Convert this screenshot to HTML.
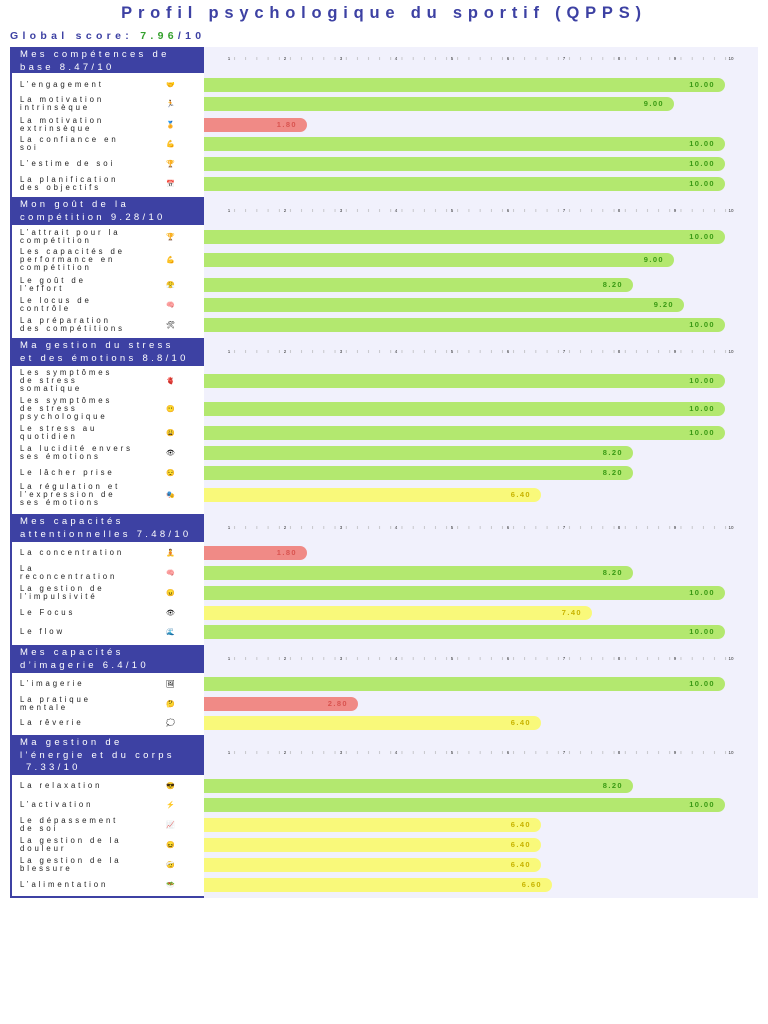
<!DOCTYPE html><html><head><meta charset="utf-8"><style>
body{margin:0;width:768px;height:1024px;background:#fff;position:relative;font-family:"Liberation Sans",sans-serif;overflow:hidden}
.a{position:absolute}
.t{left:0;width:768px;top:4px;text-align:center;font-weight:bold;font-size:16.5px;letter-spacing:5.8px;color:#3d41a3;white-space:nowrap}
.g{left:10px;top:30px;font-weight:bold;font-size:10.5px;letter-spacing:4.3px;color:#3d41a3;white-space:nowrap}
.g b{color:#33a02c}
.bg{left:204px;top:47px;width:554px;height:851px;background:#f1f1fc}
.lp{left:10px;top:47px;width:192px;height:849px;border-left:2px solid #3d41a3;border-bottom:2px solid #3d41a3;background:#fff}
.h{left:10px;width:184px;background:#3d41a3;color:#fff;font-size:9.5px;letter-spacing:3.3px;line-height:13px;padding:1px 0 0 10px;box-sizing:content-box;white-space:nowrap;overflow:hidden}
.l{left:20px;width:145px;font-size:7.8px;letter-spacing:2.9px;line-height:8px;color:#222;transform:translateY(-50%);white-space:nowrap}
.i{left:166px;font-size:7px;transform:translateY(-50%)}
.b{left:204px;height:14px;border-radius:0 8px 8px 0;font-size:7.5px;letter-spacing:1.4px;text-align:right;line-height:14px;box-sizing:border-box;padding-right:10px;font-weight:bold}
.G{background:#b3e86f;color:#3a9a14}.R{background:#f08a86;color:#d9534f}.Y{background:#f9f97a;color:#c8b400}
.k{left:204px;width:554px;height:10px}
</style></head><body>
<div class="a t">Profil psychologique du sportif (QPPS)</div>
<div class="a g">Global score: <b>7.96</b>/10</div>
<div class="a bg"></div>
<div class="a lp"></div>

<svg class="a k" style="top:53px" viewBox="0 0 554 10"><defs><pattern id="p" x="25" width="11.16" height="10" patternUnits="userSpaceOnUse"><line x1="5.58" y1="4" x2="5.58" y2="7" stroke="#aaa" stroke-width="0.6"/></pattern></defs><rect x="25" y="0" width="502" height="10" fill="url(#p)"/><g font-size="4.5" font-family="Liberation Sans" fill="#333" text-anchor="middle"><text x="25" y="7">1</text><text x="81" y="7">2</text><text x="137" y="7">3</text><text x="192" y="7">4</text><text x="248" y="7">5</text><text x="304" y="7">6</text><text x="360" y="7">7</text><text x="415" y="7">8</text><text x="471" y="7">9</text><text x="527" y="7">10</text></g></svg>
<svg class="a k" style="top:205px" viewBox="0 0 554 10"><rect x="25" y="0" width="502" height="10" fill="url(#p)"/><g font-size="4.5" font-family="Liberation Sans" fill="#333" text-anchor="middle"><text x="25" y="7">1</text><text x="81" y="7">2</text><text x="137" y="7">3</text><text x="192" y="7">4</text><text x="248" y="7">5</text><text x="304" y="7">6</text><text x="360" y="7">7</text><text x="415" y="7">8</text><text x="471" y="7">9</text><text x="527" y="7">10</text></g></svg>
<svg class="a k" style="top:346px" viewBox="0 0 554 10"><rect x="25" y="0" width="502" height="10" fill="url(#p)"/><g font-size="4.5" font-family="Liberation Sans" fill="#333" text-anchor="middle"><text x="25" y="7">1</text><text x="81" y="7">2</text><text x="137" y="7">3</text><text x="192" y="7">4</text><text x="248" y="7">5</text><text x="304" y="7">6</text><text x="360" y="7">7</text><text x="415" y="7">8</text><text x="471" y="7">9</text><text x="527" y="7">10</text></g></svg>
<svg class="a k" style="top:522px" viewBox="0 0 554 10"><rect x="25" y="0" width="502" height="10" fill="url(#p)"/><g font-size="4.5" font-family="Liberation Sans" fill="#333" text-anchor="middle"><text x="25" y="7">1</text><text x="81" y="7">2</text><text x="137" y="7">3</text><text x="192" y="7">4</text><text x="248" y="7">5</text><text x="304" y="7">6</text><text x="360" y="7">7</text><text x="415" y="7">8</text><text x="471" y="7">9</text><text x="527" y="7">10</text></g></svg>
<svg class="a k" style="top:653px" viewBox="0 0 554 10"><rect x="25" y="0" width="502" height="10" fill="url(#p)"/><g font-size="4.5" font-family="Liberation Sans" fill="#333" text-anchor="middle"><text x="25" y="7">1</text><text x="81" y="7">2</text><text x="137" y="7">3</text><text x="192" y="7">4</text><text x="248" y="7">5</text><text x="304" y="7">6</text><text x="360" y="7">7</text><text x="415" y="7">8</text><text x="471" y="7">9</text><text x="527" y="7">10</text></g></svg>
<svg class="a k" style="top:747px" viewBox="0 0 554 10"><rect x="25" y="0" width="502" height="10" fill="url(#p)"/><g font-size="4.5" font-family="Liberation Sans" fill="#333" text-anchor="middle"><text x="25" y="7">1</text><text x="81" y="7">2</text><text x="137" y="7">3</text><text x="192" y="7">4</text><text x="248" y="7">5</text><text x="304" y="7">6</text><text x="360" y="7">7</text><text x="415" y="7">8</text><text x="471" y="7">9</text><text x="527" y="7">10</text></g></svg>

<!-- S1 -->
<div class="a h" style="top:47px;height:25px">Mes compétences de<br>base 8.47/10</div>
<div class="a l" style="top:85px">L’engagement</div><div class="a i" style="top:85px">🤝</div><div class="a b G" style="top:78px;width:521px">10.00</div>
<div class="a l" style="top:104px">La motivation<br>intrinsèque</div><div class="a i" style="top:104px">🏃</div><div class="a b G" style="top:97px;width:470px">9.00</div>
<div class="a l" style="top:125px">La motivation<br>extrinsèque</div><div class="a i" style="top:125px">🏅</div><div class="a b R" style="top:118px;width:103px">1.80</div>
<div class="a l" style="top:144px">La confiance en<br>soi</div><div class="a i" style="top:144px">💪</div><div class="a b G" style="top:137px;width:521px">10.00</div>
<div class="a l" style="top:164px">L’estime de soi</div><div class="a i" style="top:164px">🏆</div><div class="a b G" style="top:157px;width:521px">10.00</div>
<div class="a l" style="top:184px">La planification<br>des objectifs</div><div class="a i" style="top:184px">📅</div><div class="a b G" style="top:177px;width:521px">10.00</div>
<!-- S2 -->
<div class="a h" style="top:197px;height:27px">Mon goût de la<br>compétition 9.28/10</div>
<div class="a l" style="top:237px">L’attrait pour la<br>compétition</div><div class="a i" style="top:237px">🏆</div><div class="a b G" style="top:230px;width:521px">10.00</div>
<div class="a l" style="top:260px">Les capacités de<br>performance en<br>compétition</div><div class="a i" style="top:260px">💪</div><div class="a b G" style="top:253px;width:470px">9.00</div>
<div class="a l" style="top:285px">Le goût de<br>l’effort</div><div class="a i" style="top:285px">😤</div><div class="a b G" style="top:278px;width:429px">8.20</div>
<div class="a l" style="top:305px">Le locus de<br>contrôle</div><div class="a i" style="top:305px">🧠</div><div class="a b G" style="top:298px;width:480px">9.20</div>
<div class="a l" style="top:325px">La préparation<br>des compétitions</div><div class="a i" style="top:325px">🛠</div><div class="a b G" style="top:318px;width:521px">10.00</div>
<!-- S3 -->
<div class="a h" style="top:338px;height:27px">Ma gestion du stress<br>et des émotions 8.8/10</div>
<div class="a l" style="top:381px">Les symptômes<br>de stress<br>somatique</div><div class="a i" style="top:381px">🫀</div><div class="a b G" style="top:374px;width:521px">10.00</div>
<div class="a l" style="top:409px">Les symptômes<br>de stress<br>psychologique</div><div class="a i" style="top:409px">😶</div><div class="a b G" style="top:402px;width:521px">10.00</div>
<div class="a l" style="top:433px">Le stress au<br>quotidien</div><div class="a i" style="top:433px">😩</div><div class="a b G" style="top:426px;width:521px">10.00</div>
<div class="a l" style="top:453px">La lucidité envers<br>ses émotions</div><div class="a i" style="top:453px">👁</div><div class="a b G" style="top:446px;width:429px">8.20</div>
<div class="a l" style="top:473px">Le lâcher prise</div><div class="a i" style="top:473px">😌</div><div class="a b G" style="top:466px;width:429px">8.20</div>
<div class="a l" style="top:495px">La régulation et<br>l’expression de<br>ses émotions</div><div class="a i" style="top:495px">🎭</div><div class="a b Y" style="top:488px;width:337px">6.40</div>
<!-- S4 -->
<div class="a h" style="top:514px;height:27px">Mes capacités<br>attentionnelles 7.48/10</div>
<div class="a l" style="top:553px">La concentration</div><div class="a i" style="top:553px">🧘</div><div class="a b R" style="top:546px;width:103px">1.80</div>
<div class="a l" style="top:573px">La<br>reconcentration</div><div class="a i" style="top:573px">🧠</div><div class="a b G" style="top:566px;width:429px">8.20</div>
<div class="a l" style="top:593px">La gestion de<br>l’impulsivité</div><div class="a i" style="top:593px">😠</div><div class="a b G" style="top:586px;width:521px">10.00</div>
<div class="a l" style="top:613px">Le Focus</div><div class="a i" style="top:613px">👁</div><div class="a b Y" style="top:606px;width:388px">7.40</div>
<div class="a l" style="top:632px">Le flow</div><div class="a i" style="top:632px">🌊</div><div class="a b G" style="top:625px;width:521px">10.00</div>
<!-- S5 -->
<div class="a h" style="top:645px;height:27px">Mes capacités<br>d’imagerie 6.4/10</div>
<div class="a l" style="top:684px">L’imagerie</div><div class="a i" style="top:684px">🖼</div><div class="a b G" style="top:677px;width:521px">10.00</div>
<div class="a l" style="top:704px">La pratique<br>mentale</div><div class="a i" style="top:704px">🤔</div><div class="a b R" style="top:697px;width:154px">2.80</div>
<div class="a l" style="top:723px">La rêverie</div><div class="a i" style="top:723px">💭</div><div class="a b Y" style="top:716px;width:337px">6.40</div>
<!-- S6 -->
<div class="a h" style="top:735px;height:38px;line-height:12.5px;padding-top:2px">Ma gestion de<br>l’énergie et du corps<br>&nbsp;7.33/10</div>
<div class="a l" style="top:786px">La relaxation</div><div class="a i" style="top:786px">😎</div><div class="a b G" style="top:779px;width:429px">8.20</div>
<div class="a l" style="top:805px">L’activation</div><div class="a i" style="top:805px">⚡</div><div class="a b G" style="top:798px;width:521px">10.00</div>
<div class="a l" style="top:825px">Le dépassement<br>de soi</div><div class="a i" style="top:825px">📈</div><div class="a b Y" style="top:818px;width:337px">6.40</div>
<div class="a l" style="top:845px">La gestion de la<br>douleur</div><div class="a i" style="top:845px">😖</div><div class="a b Y" style="top:838px;width:337px">6.40</div>
<div class="a l" style="top:865px">La gestion de la<br>blessure</div><div class="a i" style="top:865px">🤕</div><div class="a b Y" style="top:858px;width:337px">6.40</div>
<div class="a l" style="top:885px">L’alimentation</div><div class="a i" style="top:885px">🥗</div><div class="a b Y" style="top:878px;width:348px">6.60</div>
</body></html>
